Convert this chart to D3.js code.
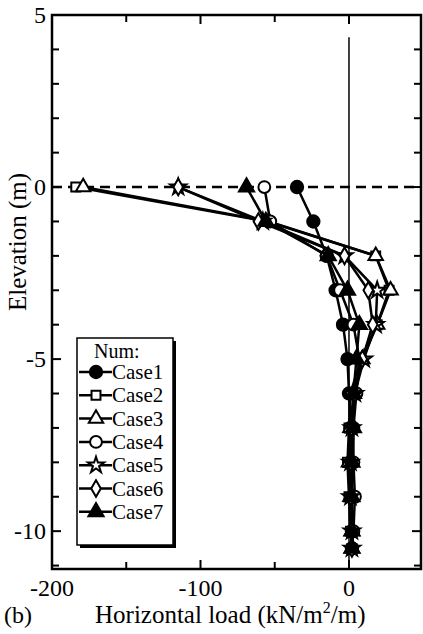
<!DOCTYPE html>
<html><head><meta charset="utf-8">
<script src="https://cdn.jsdelivr.net/npm/d3@7/dist/d3.min.js"></script>
<style>body{margin:0;background:#fff}svg{display:block}
svg text{font-family:"Liberation Serif","Times New Roman",serif;}</style>
</head><body>
<script>
const elevations = [0, -1, -2, -3, -4, -5, -6, -7, -8, -9, -10, -10.5];
const caseNames = ["Case1", "Case2", "Case3", "Case4", "Case5", "Case6", "Case7"];
const case1 = [-35, -24, -15, -9, -4, -1, 0, 1, 2, 2, 2, 2];
const case2 = [-184, -55, 18, 27, 19, 8, 1, 0, -1, 0, 1, 2];
const case3 = [-179, -54, 18, 28, 19, 9, 3, 1, 0, 1, 2, 2];
const case4 = [-57, -53, -15, -6, 3, 7, 5, 3, 3, 4, 3, 2];
const case5 = [-115, -58, -3, 19, 18, 10, 4, 2, 1, 1, 2, 2];
const case6 = [-115, -61, -3, 13, 16, 9, 4, 2, 1, 1, 2, 2];
const case7 = [-69, -56, -14, -1, 7, 5, 3, 3, 2, 2, 2, 2];
const seriesValues = [case1, case2, case3, case4, case5, case6, case7];
const xTicks = [-200, -100, 0];
const xMinorTicks = [-150, -50];
const yTicks = [5, 0, -5, -10];
const yMinorTicks = [4, 3, 2, 1, -1, -2, -3, -4, -6, -7, -8, -9, -11];

const W = 423, H = 634;
const L = 52, R = 421, T = 15, B = 569;
const svg = d3.select("body").append("svg").attr("width", W).attr("height", H);
const x = d3.scaleLinear().domain([-200, 48.5]).range([L, R]);
const y = d3.scaleLinear().domain([5, -11.1]).range([T, B]);

// frame
svg.append("rect").attr("x", L).attr("y", T).attr("width", R - L).attr("height", B - T)
  .attr("fill", "none").attr("stroke", "#000").attr("stroke-width", 2.5);

// ticks
const tk = svg.append("g").attr("stroke", "#000").attr("stroke-width", 2);
yTicks.forEach(v => {
  tk.append("line").attr("x1", L).attr("x2", L + 9).attr("y1", y(v)).attr("y2", y(v));
  tk.append("line").attr("x1", R).attr("x2", R - 9).attr("y1", y(v)).attr("y2", y(v));
});
yMinorTicks.forEach(v => {
  tk.append("line").attr("x1", L).attr("x2", L + 7).attr("y1", y(v)).attr("y2", y(v));
  tk.append("line").attr("x1", R).attr("x2", R - 7).attr("y1", y(v)).attr("y2", y(v));
});
xTicks.forEach(v => {
  tk.append("line").attr("x1", x(v)).attr("x2", x(v)).attr("y1", B).attr("y2", B - 9);
  tk.append("line").attr("x1", x(v)).attr("x2", x(v)).attr("y1", T).attr("y2", T + 9);
});
xMinorTicks.forEach(v => {
  tk.append("line").attr("x1", x(v)).attr("x2", x(v)).attr("y1", B).attr("y2", B - 7);
  tk.append("line").attr("x1", x(v)).attr("x2", x(v)).attr("y1", T).attr("y2", T + 7);
});

// tick labels
svg.append("g").selectAll("text").data(yTicks).join("text")
  .attr("x", L - 6).attr("y", d => y(d) + 8).attr("text-anchor", "end")
  .attr("font-size", 24).text(d => d);
svg.append("g").selectAll("text").data(xTicks).join("text")
  .attr("x", d => x(d)).attr("y", B + 27).attr("text-anchor", "middle")
  .attr("font-size", 24).text(d => d);

// axis titles
svg.append("text").attr("transform", `translate(26,${(T + B) / 2 - 50}) rotate(-90)`)
  .attr("text-anchor", "middle").attr("font-size", 25).text("Elevation (m)");
const xt = svg.append("text").attr("x", 95).attr("y", 623).attr("font-size", 25);
xt.append("tspan").text("Horizontal load (kN/m");
xt.append("tspan").attr("dy", -10).attr("font-size", 16).text("2");
xt.append("tspan").attr("dy", 10).text("/m)");
svg.append("text").attr("x", 4).attr("y", 623).attr("font-size", 24).text("(b)");

// reference lines
svg.append("line").attr("x1", L).attr("x2", R).attr("y1", y(0)).attr("y2", y(0))
  .attr("stroke", "#000").attr("stroke-width", 2.5).attr("stroke-dasharray", "10,6");
svg.append("line").attr("x1", x(0)).attr("x2", x(0)).attr("y1", y(4.35)).attr("y2", B)
  .attr("stroke", "#000").attr("stroke-width", 1.5);

// markers
const sym = [
  {t: d3.symbolCircle, s: 120, fill: "#000"},
  {t: d3.symbolSquare, s: 80, fill: "#fff"},
  {t: d3.symbolTriangle, s: 90, fill: "#fff"},
  {t: d3.symbolCircle, s: 110, fill: "#fff"},
  {t: d3.symbolStar, s: 80, fill: "#fff"},
  {t: d3.symbolDiamond, s: 80, fill: "#fff"},
  {t: d3.symbolTriangle, s: 100, fill: "#000"}
];
function marker(g, i, cx, cy) {
  g.append("path").attr("d", d3.symbol().type(sym[i].t).size(sym[i].s)())
    .attr("transform", `translate(${cx},${cy})`)
    .attr("fill", sym[i].fill).attr("stroke", "#000").attr("stroke-width", 2);
}

const line = d3.line().x(d => x(d[0])).y(d => y(d[1]));
seriesValues.forEach((vals, i) => {
  const pts = vals.map((v, j) => [v, elevations[j]]);
  const g = svg.append("g");
  g.append("path").attr("d", line(pts)).attr("fill", "none").attr("stroke", "#000").attr("stroke-width", 2.5);
  pts.forEach(p => marker(g, i, x(p[0]), y(p[1])));
});

// legend
const lg = svg.append("g");
lg.append("rect").attr("x", 80).attr("y", 341).attr("width", 96).attr("height", 207).attr("fill", "#000");
lg.append("rect").attr("x", 77).attr("y", 338).attr("width", 96).attr("height", 207)
  .attr("fill", "#fff").attr("stroke", "#000").attr("stroke-width", 1.5);
lg.append("text").attr("x", 94).attr("y", 358).attr("font-size", 20).text("Num:");
caseNames.forEach((n, i) => {
  const yy = 372 + i * 23.3;
  lg.append("line").attr("x1", 79).attr("x2", 112).attr("y1", yy).attr("y2", yy)
    .attr("stroke", "#000").attr("stroke-width", 2.5);
  marker(lg, i, 96, yy);
  lg.append("text").attr("x", 112).attr("y", yy + 7).attr("font-size", 21).text(n);
});
</script>
</body></html>
